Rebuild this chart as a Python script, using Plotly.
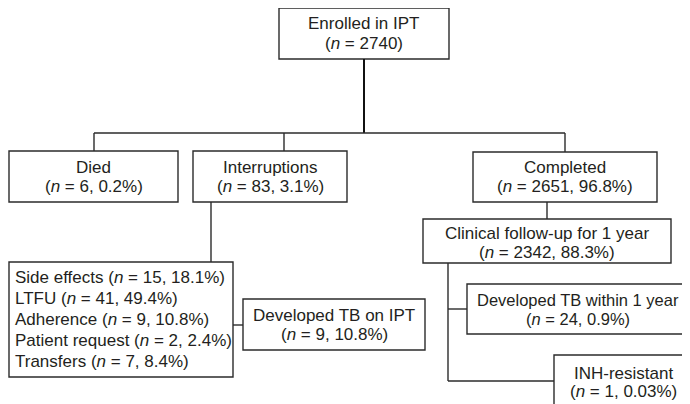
import plotly.graph_objects as go

# ---- data: node labels (text content of the flowchart) ----
node_titles = ["Enrolled in IPT", "Died", "Interruptions", "Completed",
               "Clinical follow-up for 1 year", "Developed TB within 1 year",
               "INH-resistant", "Developed TB on IPT"]
node_counts = ["2740", "6, 0.2%", "83, 3.1%", "2651, 96.8%",
               "2342, 88.3%", "24, 0.9%", "1, 0.03%", "9, 10.8%"]
reason_names = ["Side effects", "LTFU", "Adherence", "Patient request", "Transfers"]
reason_counts = ["15, 18.1%", "41, 49.4%", "9, 10.8%", "2, 2.4%", "7, 8.4%"]

# ---- layout geometry (screen pixel space, y downward) ----
boxes = [  # x0, x1, y0, y1
    (279, 449, 8, 59),
    (9, 178, 151, 202),
    (193, 347, 151, 202),
    (473, 657, 152, 202),
    (423, 671, 219, 263),
    (467, 702, 284, 334),
    (554, 702, 355, 420),
    (243, 425, 299, 350),
]
text_rows = [(23, 43), (167, 186), (167, 186), (167, 186),
             (233, 252), (300, 319), (373, 391), (315, 334)]
text_cx = [364, 93.5, 270, 565, 547, 578, 623, 334]
text_fs = [17, 17, 17, 17, 17, 16.5, 17, 17]
reason_box = (9, 233, 262, 377)
reason_rows = [277, 298, 319, 340, 361]

connectors = [  # polylines
    ([364, 364], [59, 133]),
    ([94, 565], [133, 133]),
    ([94, 94], [133, 151]),
    ([284, 284], [133, 151]),
    ([565, 565], [133, 152]),
    ([211, 211], [202, 262]),
    ([233, 243], [325, 325]),
    ([547, 547], [202, 219]),
    ([448, 448], [263, 381]),
    ([448, 467], [309, 309]),
    ([448, 554], [381, 381]),
]

FONT = "Liberation Sans, Arial, sans-serif"
FS = 17
TXT = "#231f20"
LINE = "#2b2b2b"
OFF = 8  # browser default body margin

fig = go.Figure()
shapes = []
for (x0, x1, y0, y1) in boxes + [reason_box]:
    shapes.append(dict(type="rect", xref="x", yref="y", x0=x0, x1=x1, y0=y0, y1=y1,
                       line=dict(color=LINE, width=1.4), fillcolor="rgba(0,0,0,0)"))
for i, (xs, ys) in enumerate(connectors):
    shapes.append(dict(type="line", xref="x", yref="y", x0=xs[0], x1=xs[1], y0=ys[0], y1=ys[1],
                       line=dict(color="#111" if i == 0 else LINE, width=2 if i == 0 else 1.4)))

ann = []
for t, c, (r1, r2), cx, fs in zip(node_titles, node_counts, text_rows, text_cx, text_fs):
    ann.append(dict(x=cx, y=r1, text=t, showarrow=False, xanchor="center", yanchor="middle",
                    font=dict(family=FONT, size=fs, color=TXT)))
    ann.append(dict(x=cx, y=r2, text=f"(<i>n</i> = {c})", showarrow=False, xanchor="center",
                    yanchor="middle", font=dict(family=FONT, size=fs, color=TXT)))
for nm, c, ry in zip(reason_names, reason_counts, reason_rows):
    ann.append(dict(x=13, y=ry, text=f"{nm} (<i>n</i> = {c})", showarrow=False, xanchor="left",
                    yanchor="middle", font=dict(family=FONT, size=FS, color=TXT)))

fig.update_layout(
    width=690, height=404, margin=dict(l=0, r=0, t=0, b=0),
    paper_bgcolor="white", plot_bgcolor="white",
    xaxis=dict(range=[OFF, 690 + OFF], visible=False, fixedrange=True),
    yaxis=dict(range=[404 + OFF, OFF], visible=False, fixedrange=True),
    shapes=shapes, annotations=ann, showlegend=False,
)
fig.write_html("out.html")
